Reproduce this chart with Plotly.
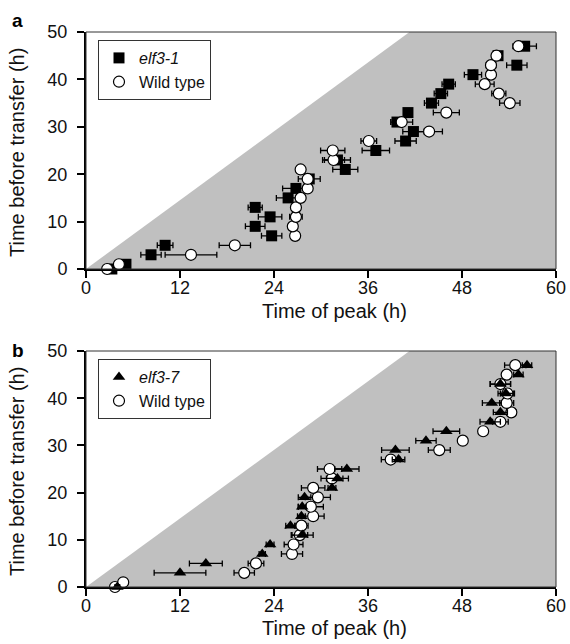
import plotly.graph_objects as go

# ---------------- data ----------------
# Panel a
a_mut_name = "<i>elf3-1</i>"
a_mut_y = [0, 1, 3, 5, 7, 9, 11, 13, 15, 17, 19, 21, 23, 25, 27, 29, 31, 33, 35, 37, 39, 41, 43, 45, 47]
a_mut_x = [3.3, 5.1, 8.3, 10.1, 23.7, 21.6, 23.5, 21.6, 25.8, 26.8, 28.5, 33.1, 32.1, 37.0, 40.8, 41.8,
           39.7, 41.1, 44.1, 45.3, 46.3, 49.4, 55.0, 52.6, 56.0]
a_mut_err = [0.3, 0.3, 1.3, 1.0, 1.3, 1.25, 1.5, 0.9, 1.5, 1.7, 1.4, 1.6, 1.66, 1.75, 1.36, 1.36,
             0.6, 0.4, 0.9, 0.85, 0.85, 1.1, 1.3, 0.5, 1.5]

a_wt_y = [0, 1, 3, 5, 7, 9, 11, 13, 15, 17, 19, 21, 23, 25, 27, 29, 31, 33, 35, 37, 39, 41, 43, 45, 47]
a_wt_x = [2.7, 4.2, 13.4, 19.0, 26.7, 26.4, 26.8, 26.8, 27.4, 28.3, 28.3, 27.4, 31.6, 31.5, 36.1, 43.8,
          40.3, 46.0, 54.1, 52.7, 50.9, 51.7, 51.7, 52.4, 55.2]
a_wt_err = [0.3, 0.3, 3.3, 2.0, 0.3, 0.3, 0.8, 0.3, 0.5, 0.4, 0.4, 0.3, 1.4, 1.55, 1.0, 1.7,
            1.4, 1.66, 1.3, 0.9, 1.2, 0.4, 0.6, 0.6, 0.4]

# Panel b
b_mut_name = "<i>elf3-7</i>"
b_mut_y = [0, 3, 5, 7, 9, 11, 13, 15, 17, 19, 21, 23, 25, 27, 29, 31, 33, 35, 37, 39, 41, 43, 45, 47]
b_mut_x = [4.0, 12.0, 15.3, 22.5, 23.5, 27.6, 26.1, 27.5, 27.6, 27.9, 31.4, 32.1, 33.3, 39.9, 39.5,
           43.4, 46.0, 51.6, 52.9, 51.8, 53.6, 52.9, 55.2, 56.3]
b_mut_err = [0.3, 3.3, 2.1, 0.4, 0.5, 1.4, 0.6, 0.5, 0.5, 0.8, 0.5, 1.4, 1.55, 0.8, 1.76,
             1.3, 1.7, 1.3, 0.9, 1.2, 1.0, 1.3, 0.6, 0.6]

b_wt_y = [0, 1, 3, 5, 7, 9, 11, 13, 15, 17, 19, 21, 23, 25, 27, 29, 31, 33, 35, 37, 39, 41, 43, 45, 47]
b_wt_x = [3.7, 4.75, 20.2, 21.7, 26.3, 26.5, 27.3, 27.5, 29.0, 28.7, 29.6, 29.0, 31.4, 31.1, 38.9, 45.1,
          48.1, 50.7, 52.9, 54.3, 53.7, 53.8, 52.9, 53.7, 54.8]
b_wt_err = [0.3, 0.3, 1.3, 1.0, 1.35, 1.2, 1.0, 0.85, 1.4, 1.6, 1.6, 1.5, 1.4, 1.55, 1.2, 1.4,
            0.5, 0.4, 1.0, 0.6, 0.9, 0.9, 1.3, 0.5, 1.36]

# shaded (admissible) region: below the diagonal
shade_x = [0, 41.3, 60, 60, 0]
shade_y = [0, 50, 50, 0, 0]

x_ticks = [0, 12, 24, 36, 48, 60]
y_ticks = [0, 10, 20, 30, 40, 50]
x_title = "Time of peak (h)"
y_title = "Time before transfer (h)"

# ---------------- figure ----------------
W, H = 570, 644
FONT = "Liberation Sans, Arial, sans-serif"
GREY = "#c0c0c0"
MS = 11

fig = go.Figure()


def err(arr):
    return dict(type="data", array=arr, visible=True, color="black", thickness=1.3, width=3)


for xa, ya in [("x", "y"), ("x2", "y2")]:
    fig.add_trace(go.Scatter(x=shade_x, y=shade_y, mode="lines", fill="toself", fillcolor=GREY,
                             line=dict(width=0), showlegend=False, hoverinfo="skip",
                             xaxis=xa, yaxis=ya))

# panel a: squares below circles
fig.add_trace(go.Scatter(x=a_mut_x, y=a_mut_y, error_x=err(a_mut_err), mode="markers",
                         name=a_mut_name, marker=dict(symbol="square", size=MS, color="black",
                                                      line=dict(width=0)),
                         cliponaxis=False, xaxis="x", yaxis="y", legend="legend"))
fig.add_trace(go.Scatter(x=a_wt_x, y=a_wt_y, error_x=err(a_wt_err), mode="markers",
                         name="Wild type", marker=dict(symbol="circle", size=MS, color="white",
                                                       line=dict(width=1.2, color="black")),
                         cliponaxis=False, xaxis="x", yaxis="y", legend="legend"))

# panel b: circles below triangles (legend order: mutant first)
fig.add_trace(go.Scatter(x=b_wt_x, y=b_wt_y, error_x=err(b_wt_err), mode="markers",
                         name="Wild type", legendrank=2,
                         marker=dict(symbol="circle", size=MS, color="white",
                                     line=dict(width=1.2, color="black")),
                         cliponaxis=False, xaxis="x2", yaxis="y2", legend="legend2"))
fig.add_trace(go.Scatter(x=b_mut_x, y=b_mut_y, error_x=err(b_mut_err), mode="markers",
                         name=b_mut_name, legendrank=1,
                         marker=dict(symbol="triangle-up", size=MS, color="black",
                                     line=dict(width=0)),
                         cliponaxis=False, xaxis="x2", yaxis="y2", legend="legend2"))

xd = [86 / W, 556 / W]
ya_dom = [1 - 269 / H, 1 - 32 / H]
yb_dom = [1 - 587 / H, 1 - 351 / H]

common_axis = dict(showline=True, linecolor="black", linewidth=2, ticks="outside", ticklen=7,
                   tickwidth=1.5, tickcolor="black", showgrid=False, zeroline=False,
                   tickfont=dict(family=FONT, size=18, color="#111"), automargin=False)

fig.update_layout(
    width=W, height=H, margin=dict(l=0, r=0, t=0, b=0),
    paper_bgcolor="white", plot_bgcolor="white",
    font=dict(family=FONT, color="#111"),
    xaxis=dict(domain=xd, anchor="y", range=[0, 60], tickvals=x_ticks, ticklabelstandoff=-6,
               **common_axis),
    yaxis=dict(domain=ya_dom, anchor="x", range=[0, 50], tickvals=y_ticks, ticklabelstandoff=6,
               **common_axis),
    xaxis2=dict(domain=xd, anchor="y2", range=[0, 60], tickvals=x_ticks, ticklabelstandoff=-6,
                **common_axis),
    yaxis2=dict(domain=yb_dom, anchor="x2", range=[0, 50], tickvals=y_ticks, ticklabelstandoff=6,
                **common_axis),
    legend=dict(x=98 / W, y=1 - 40 / H, xanchor="left", yanchor="top", bgcolor="white",
                bordercolor="#333", borderwidth=1, font=dict(family=FONT, size=16, color="#111"),
                tracegroupgap=0, itemsizing="trace"),
    legend2=dict(x=98 / W, y=1 - 359 / H, xanchor="left", yanchor="top", bgcolor="white",
                 bordercolor="#333", borderwidth=1, font=dict(family=FONT, size=16, color="#111"),
                 tracegroupgap=0, itemsizing="trace"),
    showlegend=True,
)

# thin frame on top / right
for xr, yr in [("x domain", "y domain"), ("x2 domain", "y2 domain")]:
    fig.add_shape(type="rect", xref=xr, yref=yr, x0=0, x1=1, y0=0, y1=1,
                  line=dict(color="#333", width=1), layer="above")

TF = dict(family=FONT, size=20, color="#111")
# axis titles
fig.add_annotation(text=x_title, xref="paper", yref="paper", x=334 / W, y=1 - 311 / H,
                   xanchor="center", yanchor="middle", showarrow=False, font=TF)
fig.add_annotation(text=x_title, xref="paper", yref="paper", x=334 / W, y=1 - 628 / H,
                   xanchor="center", yanchor="middle", showarrow=False, font=TF)
fig.add_annotation(text=y_title, xref="paper", yref="paper", x=17 / W, y=1 - 153 / H,
                   xanchor="center", yanchor="middle", showarrow=False, font=TF, textangle=-90)
fig.add_annotation(text=y_title, xref="paper", yref="paper", x=17 / W, y=1 - 472 / H,
                   xanchor="center", yanchor="middle", showarrow=False, font=TF, textangle=-90)

# panel letters
fig.add_annotation(text="<b>a</b>", xref="paper", yref="paper", x=10 / W, y=1 - 8 / H,
                   xanchor="left", yanchor="top", showarrow=False,
                   font=dict(family=FONT, size=19, color="black"))
fig.add_annotation(text="<b>b</b>", xref="paper", yref="paper", x=10 / W, y=1 - 338 / H,
                   xanchor="left", yanchor="top", showarrow=False,
                   font=dict(family=FONT, size=19, color="black"))

fig.write_html("out.html", config={"displayModeBar": False},
               post_script="document.body.style.margin='0';")
